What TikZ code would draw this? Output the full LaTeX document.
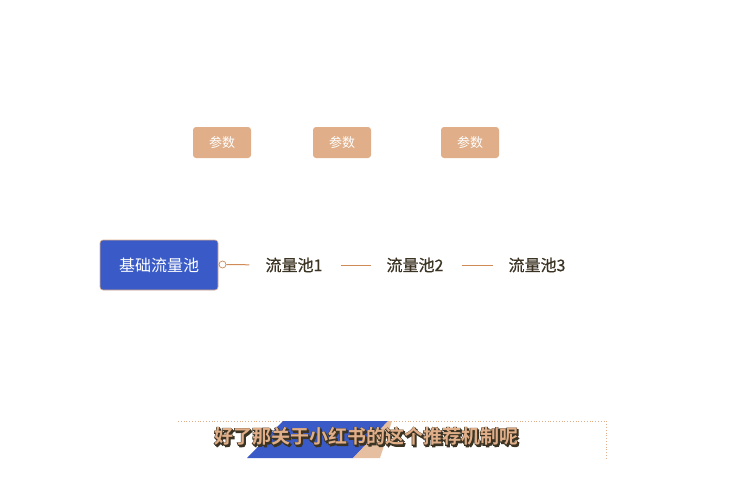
\documentclass[tikz,border=0pt]{standalone}
\usepackage{fontspec}
\setmainfont{Noto Sans CJK SC}
\newfontfamily\cjkmed[FakeBold=0.7]{Noto Sans CJK SC}
\newfontfamily\cjkbold{Noto Sans CJK SC Bold}
\newfontfamily\cjkfat[FakeBold=6]{Noto Sans CJK SC Bold}
\definecolor{beige}{HTML}{E0AE88}
\definecolor{basblue}{HTML}{3A5BC7}
\definecolor{darktxt}{HTML}{3B3323}
\definecolor{linec}{HTML}{D08A55}
\tikzset{
  parambox/.style={fill=beige, rounded corners=3pt, minimum width=58pt, minimum height=31pt, text=white, font=\fontsize{13}{13}\selectfont, inner sep=0pt},
  basebox/.style={fill=basblue, draw=beige, line width=0.6pt, rounded corners=3pt, minimum width=118pt, minimum height=50pt, text=white, font=\fontsize{16}{16}\selectfont, inner sep=0pt},
  poollabel/.style={text=darktxt, font=\fontsize{16}{16}\cjkmed, inner sep=0pt},
  link/.style={draw=linec, line width=1pt},
}
\newcommand{\subtxt}{好了那关于小红书的这个推荐机制呢}
\begin{document}
\begin{tikzpicture}[x=1pt,y=-1pt]
\useasboundingbox (0,0) rectangle (730,480);
% parameter boxes
\node[parambox] (q1) at (222,142.5) {参数};
\node[parambox] (q2) at (342,142.5) {参数};
\node[parambox] (q3) at (470,142.5) {参数};
% base pool
\node[basebox] (base) at (159,265) {基础流量池};
\node[draw=linec, line width=0.7pt, circle, minimum size=7pt, inner sep=0pt, fill=white] (dot) at (222.5,264.5) {};
\node[poollabel] (p1) at (294,265) {流量池1};
\node[poollabel] (p2) at (415,265) {流量池2};
\node[poollabel] (p3) at (537,265) {流量池3};
\draw[link, shorten >=16pt] (dot.east) -- (p1.west);
\draw[link, shorten <=18pt, shorten >=15pt] (p1.east) -- (p2.west);
\draw[link, shorten <=18pt, shorten >=15pt] (p2.east) -- (p3.west);
% subtitle banner
\draw[beige, dotted, line width=0.8pt] (178,421) -- (606,421) -- (606,460);
\fill[basblue] (247,458) -- (283,421) -- (388,421) -- (353,458) -- cycle;
\fill[beige, opacity=0.8] (353,458) -- (388,421) -- (392,421) -- (380,458) -- cycle;
\node[inner sep=0pt, font=\fontsize{19}{19}\selectfont] (sub) at (366,437) {\rlap{\hspace{1.5pt}\raisebox{-1.5pt}{\color{darktxt}\cjkfat\subtxt}}\rlap{\color{darktxt}\cjkfat\subtxt}{\color{beige}\cjkbold\subtxt}};
\end{tikzpicture}
\end{document}
